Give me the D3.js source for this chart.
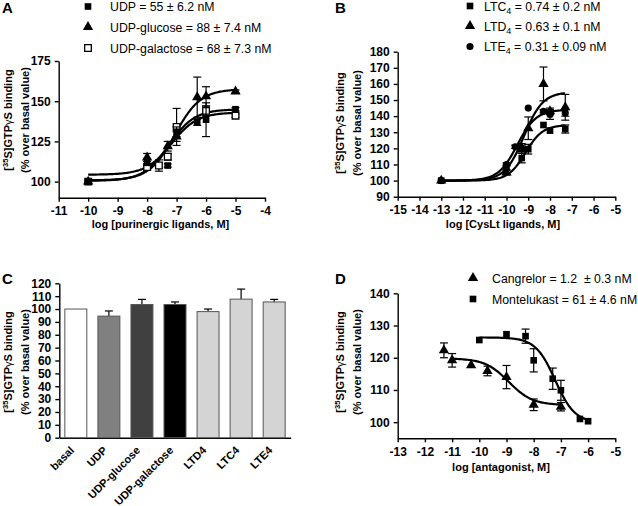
<!DOCTYPE html>
<html lang="en">
<head>
<meta charset="utf-8">
<title>[35S]GTPgS binding - four panels</title>
<script src="https://cdn.jsdelivr.net/npm/d3@7"></script>
<style>
body { margin: 0; background: #fff; }
svg text { font-family: Arial, "Liberation Sans", sans-serif; fill: #000; }
.axis text { font-weight: bold; font-size: 12px; }
.axis path, .axis line { stroke: #000; stroke-width: 1.4; }
.lab { font-weight: bold; font-size: 11px; }
.leg { font-size: 12.3px; white-space: pre; }
.panel { font-weight: bold; font-size: 15px; }
</style>
</head>
<body>
<script>
// ---- panel A: purinergic ligands ----
var udpX = [-10, -8, -7.3, -7, -6.3, -6, -5];
var udpY = [100, 112, 110, 131, 137, 138.5, 145];
var udpErr = [0.5, 2, 1, 3, 2, 10.5, 1];
var gluX = [-10, -8, -7.3, -7, -6.3, -6, -5];
var gluY = [100, 115, 122, 128, 152.5, 153, 156];
var gluErr = [0.5, 2.5, 3, 3, 12.5, 6, 1];
var galX = [-10, -8, -7.6, -7.3, -7, -6, -5];
var galY = [100, 109, 110, 115.5, 134, 144, 141];
var galErr = [0.5, 2, 3.5, 2, 11.5, 3, 1];
// fit: [low, high, log EC50, slope, from, to]
var udpFit = [100.5, 145, -7.26, 1, -10, -5];
var gluFit = [100.8, 157.5, -7.06, 1, -10, -5];
var galFit = [104.3, 143, -7.17, 1, -10, -5];
var aLegend = ["UDP = 55 ± 6.2 nM", "UDP-glucose = 88 ± 7.4 nM", "UDP-galactose = 68 ± 7.3 nM"];

// ---- panel B: CysLt ligands ----
var ltcX = [-13, -10, -9.3, -9, -8.3, -8, -7.3];
var ltcY = [100, 108, 114, 119.5, 134.5, 131, 132];
var ltcErr = [0.5, 1.5, 3, 3, 0, 0.5, 2.5];
var ltdX = [-13, -10, -9.3, -9, -8.3, -8, -7.3];
var ltdY = [100, 105, 120, 132.5, 160, 143, 145.5];
var ltdErr = [0.5, 1.5, 3, 7, 10.5, 2, 8];
var lteX = [-13, -10, -9.6, -9.3, -9, -8.3, -8, -7.3];
var lteY = [100, 110, 121, 120, 145, 143, 141, 142];
var lteErr = [0.5, 1, 1, 2, 0, 1, 3, 2];
var ltcFit = [100, 134.5, -9.13, 1.1, -13, -7.3];
var ltdFit = [100, 155, -9.2, 1, -13, -7.3];
var lteFit = [100, 144, -9.51, 1, -13, -7.3];
var bLegend = [["LTC", "4", " = 0.74 ± 0.2 nM"], ["LTD", "4", " = 0.63 ± 0.1 nM"], ["LTE", "4", " = 0.31 ± 0.09 nM"]];

// ---- panel C: single concentration bars ----
var cNames = ["basal", "UDP", "UDP-glucose", "UDP-galactose", "LTD4", "LTC4", "LTE4"];
var cValues = [100, 94.5, 103.5, 103.5, 98, 107.7, 105.5];
var cErr = [0, 4, 4, 2, 2, 7.8, 2];
var cFill = ["#ffffff", "#808080", "#404040", "#000000", "#d4d4d4", "#d4d4d4", "#d4d4d4"];

// ---- panel D: antagonists ----
var cangX = [-11.3, -11, -10.3, -9.7, -9, -8, -7];
var cangY = [122.3, 119.2, 117.7, 115.9, 114, 105.4, 104.8];
var cangErr = [2.3, 2.1, 0, 1.5, 3.6, 1.8, 1.3];
var monteX = [-10, -9, -8.3, -8, -7.3, -7, -6.3, -6];
var monteY = [125.5, 127.3, 126.7, 119.2, 113.5, 109.9, 101, 100.3];
var monteErr = [0, 0, 2.2, 3.6, 3.3, 3.1, 0, 0];
var cangFit = [119.8, 105.3, -8.92, 1, -11, -7];
var monteFit = [126.3, 99.8, -7.21, 1.2, -10, -6];
var dLegend = ["Cangrelor = 1.2  ± 0.3 nM", "Montelukast = 61 ± 4.6 nM"];

var w = 638, h = 506;
var svg = d3.select("body").append("svg")
    .attr("width", w)
    .attr("height", h);

function hill(p) {
    return function(x) { return p[0] + (p[1] - p[0]) / (1 + Math.pow(10, (p[2] - x) * p[3])); };
}

function yLabel(cx, cy, x1) {
    var g = svg.append("g").attr("transform", "translate(" + cx + "," + cy + ") rotate(-90)");
    var t = g.append("text").attr("class", "lab").attr("text-anchor", "middle").attr("y", x1);
    t.append("tspan").text("[");
    t.append("tspan").attr("font-size", "7.5px").attr("dy", -4).text("35");
    t.append("tspan").attr("dy", 4).text("S]GTP");
    t.append("tspan").attr("font-weight", "normal").text("γ");
    t.append("tspan").text("S binding");
    g.append("text").attr("class", "lab").attr("text-anchor", "middle").attr("y", x1 + 17)
        .text("(% over basal value)");
}

function symbolFor(kind) {
    if (kind == "tri") return d3.symbol().type(d3.symbolTriangle).size(46)();
    if (kind == "circ") return d3.symbol().type(d3.symbolCircle).size(40)();
    return d3.symbol().type(d3.symbolSquare).size(44)();
}

function series(x, y, xs, ys, err, kind, open) {
    var g = svg.append("g");
    var pts = xs.map(function(d, i) { return {x: d, y: ys[i], e: err[i]}; });
    var eb = g.selectAll(".eb").data(pts.filter(function(d) { return d.e > 0.8; }))
        .enter().append("g").attr("stroke", "#000").attr("stroke-width", 1.2);
    eb.append("line")
        .attr("x1", function(d) { return x(d.x); }).attr("x2", function(d) { return x(d.x); })
        .attr("y1", function(d) { return y(d.y - d.e); }).attr("y2", function(d) { return y(d.y + d.e); });
    [-1, 1].forEach(function(s) {
        eb.append("line")
            .attr("x1", function(d) { return x(d.x) - 4; }).attr("x2", function(d) { return x(d.x) + 4; })
            .attr("y1", function(d) { return y(d.y + s * d.e); }).attr("y2", function(d) { return y(d.y + s * d.e); });
    });
    g.selectAll(".pt").data(pts).enter().append("path")
        .attr("d", symbolFor(kind))
        .attr("transform", function(d) { return "translate(" + x(d.x) + "," + y(d.y) + ")"; })
        .attr("fill", open ? "#fff" : "#000")
        .attr("stroke", "#000")
        .attr("stroke-width", open ? 1.3 : 0);
}

function fitLine(x, y, p) {
    var f = hill(p);
    var xs = d3.range(p[4], p[5] + 0.001, 0.04);
    var line = d3.line().x(function(d) { return x(d); }).y(function(d) { return y(f(d)); });
    svg.append("path").datum(xs).attr("d", line)
        .attr("fill", "none").attr("stroke", "#000").attr("stroke-width", 2.2);
}

function axes(x, y, yBottom, xLeft, xTicks, yTicks) {
    svg.append("g").attr("class", "axis").attr("transform", "translate(0," + yBottom + ")")
        .call(d3.axisBottom(x).tickValues(xTicks).tickSize(4).tickPadding(5).tickSizeOuter(0)
            .tickFormat(function(d) { return String(d); }));
    svg.append("g").attr("class", "axis").attr("transform", "translate(" + xLeft + ",0)")
        .call(d3.axisLeft(y).tickValues(yTicks).tickSize(4).tickPadding(4).tickSizeOuter(0));
}

function legend(x0, tx, ys, kinds, opens, texts) {
    texts.forEach(function(t, i) {
        svg.append("path").attr("d", symbolFor(kinds[i]))
            .attr("transform", "translate(" + x0 + "," + ys[i] + ")")
            .attr("fill", opens[i] ? "#fff" : "#000").attr("stroke", "#000")
            .attr("stroke-width", opens[i] ? 1.3 : 0);
        var el = svg.append("text").attr("class", "leg").attr("x", tx).attr("y", ys[i] + 4.5);
        if (typeof t == "string") el.text(t);
        else {
            el.append("tspan").text(t[0]);
            el.append("tspan").attr("font-size", "9px").attr("dy", 3).text(t[1]);
            el.append("tspan").attr("dy", -3).text(t[2]);
        }
    });
}

// Panel A
var xA = d3.scaleLinear().domain([-11, -4]).range([58.7, 265]);
var yA = d3.scaleLinear().domain([90, 175]).range([197.7, 61]);
axes(xA, yA, 197.7, 58.7, d3.range(-11, -3), [100, 125, 150, 175]);
fitLine(xA, yA, udpFit);
fitLine(xA, yA, gluFit);
fitLine(xA, yA, galFit);
series(xA, yA, galX, galY, galErr, "sq", true);
series(xA, yA, udpX, udpY, udpErr, "sq", false);
series(xA, yA, gluX, gluY, gluErr, "tri", false);
svg.append("text").attr("class", "lab").attr("x", 160.5).attr("y", 228).attr("text-anchor", "middle")
    .text("log [purinergic ligands, M]");
yLabel(0, 120, 12);
legend(88, 110, [6.5, 27, 48], ["sq", "tri", "sq"], [false, false, true], aLegend);
svg.append("text").attr("class", "panel").attr("x", 2).attr("y", 13).text("A");

// Panel B
var xB = d3.scaleLinear().domain([-15, -5]).range([397.7, 615.3]);
var yB = d3.scaleLinear().domain([90, 180]).range([196.7, 51.7]);
axes(xB, yB, 196.7, 397.7, d3.range(-15, -4), d3.range(90, 181, 10));
fitLine(xB, yB, ltcFit);
fitLine(xB, yB, ltdFit);
fitLine(xB, yB, lteFit);
series(xB, yB, lteX, lteY, lteErr, "circ", false);
series(xB, yB, ltdX, ltdY, ltdErr, "tri", false);
series(xB, yB, ltcX, ltcY, ltcErr, "sq", false);
svg.append("text").attr("class", "lab").attr("x", 503).attr("y", 228).attr("text-anchor", "middle")
    .text("log [CysLt ligands, M]");
yLabel(0, 123, 344);
legend(470, 484, [6, 26, 46.5], ["sq", "tri", "circ"], [false, false, false], bLegend);
svg.append("text").attr("class", "panel").attr("x", 335).attr("y", 13).text("B");

// Panel C
var xC = d3.scaleBand().domain(cNames).range([59.3, 290.7]).paddingInner(0.335).paddingOuter(0.1675);
var yC = d3.scaleLinear().domain([0, 120]).range([437.7, 283.3]);
svg.append("g").attr("class", "axis").attr("transform", "translate(0,437.7)")
    .call(d3.axisBottom(xC).tickSize(0).tickFormat(""));
svg.append("g").attr("class", "axis").attr("transform", "translate(59.3,0)")
    .call(d3.axisLeft(yC).tickValues(d3.range(0, 121, 10)).tickSize(4).tickPadding(4).tickSizeOuter(0));
var bars = svg.append("g").selectAll("g").data(cNames).enter().append("g");
bars.append("line")
    .attr("x1", function(d) { return xC(d) + xC.bandwidth() / 2; })
    .attr("x2", function(d) { return xC(d) + xC.bandwidth() / 2; })
    .attr("y1", function(d, i) { return yC(cValues[i]); })
    .attr("y2", function(d, i) { return yC(cValues[i] + cErr[i]); })
    .attr("stroke", "#000").attr("stroke-width", 1.2);
bars.append("line")
    .attr("x1", function(d) { return xC(d) + xC.bandwidth() / 2 - 4; })
    .attr("x2", function(d) { return xC(d) + xC.bandwidth() / 2 + 4; })
    .attr("y1", function(d, i) { return yC(cValues[i] + cErr[i]); })
    .attr("y2", function(d, i) { return yC(cValues[i] + cErr[i]); })
    .attr("stroke", function(d, i) { return cErr[i] > 0 ? "#000" : "none"; }).attr("stroke-width", 1.2);
bars.append("rect")
    .attr("x", function(d) { return xC(d); })
    .attr("width", xC.bandwidth())
    .attr("y", function(d, i) { return yC(cValues[i]); })
    .attr("height", function(d, i) { return yC(0) - yC(cValues[i]); })
    .attr("fill", function(d, i) { return cFill[i]; })
    .attr("stroke", "#555").attr("stroke-width", 1);
svg.append("g").selectAll("text").data(cNames).enter().append("text")
    .attr("class", "lab")
    .attr("font-size", "10.5px")
    .attr("text-anchor", "end")
    .attr("transform", function(d) { return "translate(" + (xC(d) + xC.bandwidth() / 2 - 1) + ",451) rotate(-45)"; })
    .text(function(d) { return d; });
yLabel(0, 362, 12);
svg.append("text").attr("class", "panel").attr("x", 2).attr("y", 284).text("C");

// Panel D
var xD = d3.scaleLinear().domain([-13, -5]).range([397.7, 615.3]);
var yD = d3.scaleLinear().domain([95, 140]).range([438.3, 293.3]);
axes(xD, yD, 438.3, 397.7, d3.range(-13, -4), [100, 110, 120, 130, 140]);
fitLine(xD, yD, cangFit);
fitLine(xD, yD, monteFit);
series(xD, yD, cangX, cangY, cangErr, "tri", false);
series(xD, yD, monteX, monteY, monteErr, "sq", false);
svg.append("text").attr("class", "lab").attr("x", 501).attr("y", 471).attr("text-anchor", "middle")
    .text("log [antagonist, M]");
yLabel(0, 362, 344);
legend(473, 492, [278, 299], ["tri", "sq"], [false, false], dLegend);
svg.append("text").attr("class", "panel").attr("x", 335).attr("y", 284).text("D");
</script>
</body>
</html>
